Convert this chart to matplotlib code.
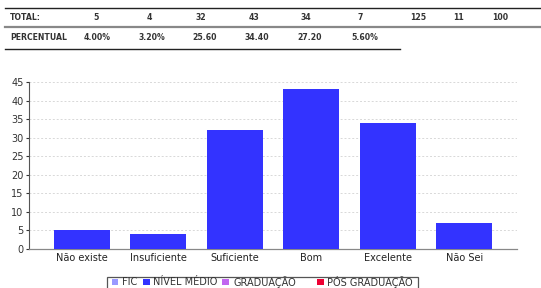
import matplotlib.pyplot as plt
import numpy as np
from matplotlib.lines import Line2D
from matplotlib.patches import Rectangle

W, H = 541, 288

categories = ["Não existe", "Insuficiente", "Suficiente", "Bom", "Excelente", "Não Sei"]
totals = [5, 4, 32, 43, 34, 7]
extra_totals = ["125", "11", "100"]
percentual = ["4.00%", "3.20%", "25.60", "34.40", "27.20", "5.60%"]

legend_labels = ["FIC", "NÍVEL MÉDIO", "GRADUAÇÃO", "PÓS GRADUAÇÃO"]
legend_colors = ["#9999ff", "#3333ff", "#c266f0", "#ee0033"]
bar_color = "#3333ff"


def fx(x):
    return x / W


def fy(y):
    return 1 - y / H


fig = plt.figure(figsize=(W / 100, H / 100), dpi=100)
fig.patch.set_facecolor("white")

# --- summary table on top ---
fig.add_artist(Line2D([fx(5), fx(541)], [fy(8), fy(8)], color="#222222", lw=1.0))
fig.add_artist(Line2D([fx(5), fx(541)], [fy(26.5), fy(26.5)], color="#888888", lw=1.6))
fig.add_artist(Line2D([fx(5), fx(400)], [fy(49), fy(49)], color="#222222", lw=1.0))

tkw = dict(fontsize=5.6, fontweight="bold", color="#333333", va="center")
fig.text(fx(10), fy(17), "TOTAL:", ha="left", **tkw)
fig.text(fx(10), fy(37), "PERCENTUAL", ha="left", **tkw)
col_x = [96, 149, 201, 254, 306, 360]
pct_x = [97, 152, 205, 257, 310, 365]
for x, v in zip(col_x, totals):
    fig.text(fx(x), fy(17), str(v), ha="center", **tkw)
for x, v in zip([418, 459, 500], extra_totals):
    fig.text(fx(x), fy(17), v, ha="center", **tkw)
for x, v in zip(pct_x, percentual):
    fig.text(fx(x), fy(37), v, ha="center", **tkw)

# --- bar chart ---
ax = fig.add_axes([fx(29), fy(249), fx(517) - fx(29), (249 - 82) / H])
x = np.arange(len(categories))
ax.bar(x, totals, width=0.73, color=bar_color, zorder=3)
ax.set_xlim(-0.69, 5.69)
ax.set_ylim(0, 45)
ax.set_yticks(range(0, 46, 5))
ax.set_xticks(x)
ax.set_xticklabels(categories)
ax.tick_params(axis="y", labelsize=7, length=2, pad=2, colors="#333333")
ax.tick_params(axis="x", labelsize=7, length=0, pad=3, colors="#222222")
ax.yaxis.grid(True, color="#d8d8d8", linestyle=(0, (2, 2)), lw=0.7, zorder=0)
for s in ["top", "right"]:
    ax.spines[s].set_visible(False)
ax.spines["left"].set_color("#555555")
ax.spines["left"].set_linewidth(0.8)
ax.spines["bottom"].set_color("#888888")
ax.spines["bottom"].set_linestyle((0, (1, 1)))
ax.spines["bottom"].set_linewidth(0.9)

# --- legend box at bottom ---
fig.add_artist(Rectangle((fx(107), fy(292)), fx(418) - fx(107), (292 - 277) / H,
                         fill=False, edgecolor="#555555", lw=0.9))
sq_x = [112, 143, 222, 317]
txt_x = [122, 153, 233, 327]
for x0, xt, lab, c in zip(sq_x, txt_x, legend_labels, legend_colors):
    fig.add_artist(Rectangle((fx(x0), fy(285)), 6.5 / W, 6.5 / H, color=c, lw=0))
    fig.text(fx(xt), fy(282), lab, fontsize=7.0, color="#333333", va="center", ha="left")

fig.savefig("out.png", dpi=100)
